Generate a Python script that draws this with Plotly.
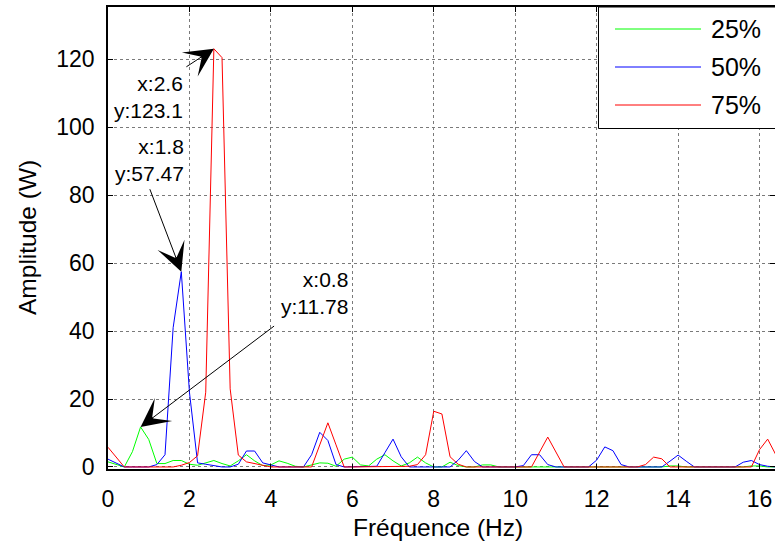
import plotly.graph_objects as go

# ---------------- data ----------------
freq = [0.0, 0.2, 0.4, 0.6, 0.8, 1.0, 1.2, 1.4, 1.6, 1.8,
        2.0, 2.2, 2.4, 2.6, 2.8, 3.0, 3.2, 3.4, 3.6, 3.8,
        4.0, 4.2, 4.4, 4.6, 4.8, 5.0, 5.2, 5.4, 5.6, 5.8,
        6.0, 6.2, 6.4, 6.6, 6.8, 7.0, 7.2, 7.4, 7.6, 7.8,
        8.0, 8.2, 8.4, 8.6, 8.8, 9.0, 9.2, 9.4, 9.6, 9.8,
        10.0, 10.2, 10.4, 10.6, 10.8, 11.0, 11.2, 11.4, 11.6, 11.8,
        12.0, 12.2, 12.4, 12.6, 12.8, 13.0, 13.2, 13.4, 13.6, 13.8,
        14.0, 14.2, 14.4, 14.6, 14.8, 15.0, 15.2, 15.4, 15.6, 15.8,
        16.0, 16.2, 16.4]

amp_25 = [1.5, 0.8, 0.0, 4.5, 11.78, 8.1, 1.0, 1.0, 1.9, 1.9,
          0.8, 0.5, 1.2, 1.9, 1.0, 0.3, 1.8, 3.6, 1.8, 0.4,
          0.6, 1.8, 1.1, 0.2, 0.0, 0.6, 1.2, 1.1, 0.2, 2.3,
          2.9, 0.6, 0.3, 2.3, 3.6, 1.8, 0.3, 1.2, 2.9, 1.2,
          0.0, 0.0, 1.4, 0.4, 0.0, 0.0, 0.6, 0.6, 0.0, 0.0,
          0.0, 0.0, 0.0, 0.0, 0.0, 0.0, 0.0, 0.0, 0.0, 0.0,
          0.0, 0.0, 0.0, 0.0, 0.0, 0.0, 0.0, 0.0, 0.0, 0.3,
          0.3, 0.0, 0.0, 0.0, 0.0, 0.0, 0.0, 0.0, 0.0, 0.3,
          0.3, 0.0, 0.0]

amp_50 = [2.3, 1.2, 0.0, 0.0, 0.0, 0.0, 0.7, 3.6, 41.0, 57.47,
          22.0, 1.2, 0.8, 0.4, 0.0, 0.0, 0.8, 4.7, 4.7, 1.2,
          0.5, 0.0, 0.0, 0.0, 0.0, 3.6, 10.2, 7.8, 0.7, 0.0,
          0.0, 0.0, 0.0, 0.2, 4.2, 8.2, 3.0, 0.0, 0.0, 0.0,
          0.0, 0.0, 0.0, 2.0, 4.8, 1.6, 0.0, 0.0, 0.0, 0.0,
          0.0, 0.4, 3.6, 3.6, 0.7, 0.0, 0.0, 0.0, 0.0, 0.0,
          2.0, 5.9, 4.8, 0.7, 0.0, 0.0, 0.0, 0.0, 0.0, 1.7,
          3.5, 1.7, 0.0, 0.0, 0.0, 0.0, 0.0, 0.0, 1.4, 1.9,
          0.7, 0.2, 0.0]

amp_75 = [5.8, 2.9, 0.0, 0.0, 0.0, 0.0, 0.0, 0.0, 0.0, 0.5,
          1.3, 3.3, 22.0, 123.1, 120.5, 23.0, 3.5, 1.5, 1.0, 0.4,
          0.0, 0.0, 0.0, 0.0, 0.0, 0.0, 6.5, 13.0, 6.5, 0.0,
          0.0, 0.0, 0.0, 0.0, 0.0, 0.0, 0.0, 0.2, 0.7, 3.6,
          16.4, 15.6, 3.0, 0.8, 0.0, 0.0, 0.0, 0.0, 0.0, 0.0,
          0.0, 0.0, 0.0, 4.4, 8.8, 4.4, 0.0, 0.0, 0.0, 0.0,
          0.0, 0.0, 0.0, 0.0, 0.0, 0.0, 0.7, 2.9, 2.4, 0.0,
          0.0, 0.0, 0.0, 0.0, 0.0, 0.0, 0.0, 0.0, 0.0, 0.0,
          5.1, 8.2, 3.6]

series_names = ["25%", "50%", "75%"]
series_colors = ["#00ff00", "#0000ff", "#ff0000"]
series_values = [amp_25, amp_50, amp_75]

x_ticks = [0, 2, 4, 6, 8, 10, 12, 14, 16]
y_ticks = [0, 20, 40, 60, 80, 100, 120]
x_title = "Fréquence (Hz)"
y_title = "Amplitude (W)"

# data-tip annotations: (series index, x value) + offsets (pixels)
datatips = [
    # series, x, arrow tail dx, dy, text xshift, yshift
    (2, 2.6, -29, 19, -29, -48),
    (1, 1.8, -32, -84, 5, 112),
    (0, 0.8, 135, -102, 209, 134),
]

FONT = "Liberation Sans, Arial, sans-serif"

fig = go.Figure()
for name, color, vals in zip(series_names, series_colors, series_values):
    fig.add_trace(go.Scatter(x=freq, y=vals, mode="lines", name=name,
                             line=dict(color=color, width=1),
                             showlegend=False, hoverinfo="skip"))

for s, xv, dx, dy, tx, ty in datatips:
    i = freq.index(xv)
    yv = series_values[s][i]
    fig.add_annotation(x=xv, y=yv, xref="x", yref="y", text="",
                       showarrow=True, arrowhead=3, arrowsize=4.8,
                       arrowwidth=1, arrowcolor="black", standoff=0,
                       ax=dx, ay=dy)
    fig.add_annotation(x=xv, y=yv, xref="x", yref="y",
                       text=f"x:{xv:g}<br>y:{yv:g}", showarrow=False,
                       xanchor="right", yanchor="middle", align="right",
                       xshift=tx, yshift=ty,
                       font=dict(family=FONT, size=21, color="black"))

# layout geometry (pixels)
L, R, T, B = 108, 0, 7, 80
W, H = 775, 549
pw, ph = W - L - R, H - T - B
def px(x):
    return (x - L) / pw
def py(y):
    return (H - B - y) / ph

# custom legend (MATLAB style)
fig.add_shape(type="rect", xref="paper", yref="paper",
              x0=px(598.5), x1=px(790), y0=py(128.5), y1=py(7),
              line=dict(color="black", width=1), fillcolor="white", layer="above")
for k, (name, color) in enumerate(zip(series_names, series_colors)):
    yy = py(29 + 38 * k)
    fig.add_shape(type="line", xref="paper", yref="paper",
                  x0=px(615), x1=px(701), y0=yy, y1=yy,
                  line=dict(color=color, width=1), layer="above")
    fig.add_annotation(xref="paper", yref="paper", x=px(709), y=yy,
                       text=name, showarrow=False, xanchor="left",
                       yanchor="middle",
                       font=dict(family=FONT, size=25, color="black"))

# axis titles
fig.add_annotation(xref="paper", yref="paper", x=px(438), y=py(527),
                   text=x_title, showarrow=False, xanchor="center",
                   yanchor="middle", font=dict(family=FONT, size=24.5, color="black"))
fig.add_annotation(xref="paper", yref="paper", x=px(27), y=py(238),
                   text=y_title, showarrow=False, xanchor="center",
                   yanchor="middle", textangle=-90,
                   font=dict(family=FONT, size=24.5, color="black"))

axis_common = dict(showline=True, linecolor="black", linewidth=1.5,
                   mirror="ticks", ticks="inside", ticklen=5,
                   tickcolor="black", showgrid=True, gridcolor="#7a7a7a",
                   griddash="dot", gridwidth=1, zeroline=False,
                   automargin=False,
                   tickfont=dict(family=FONT, size=23, color="black"))

fig.update_xaxes(range=[0, 16.38], tickvals=x_ticks,
                 ticktext=[str(v) for v in x_ticks],
                 ticklabelstandoff=9, **axis_common)
fig.update_yaxes(range=[-0.6, 135.4], tickvals=y_ticks,
                 ticktext=[str(v) for v in y_ticks],
                 ticklabelstandoff=7, **axis_common)

fig.update_layout(width=W, height=H, margin=dict(l=L, r=R, t=T, b=B, autoexpand=False),
                  paper_bgcolor="white", plot_bgcolor="white",
                  showlegend=False, font=dict(family=FONT), hovermode=False)

fig.write_html("out.html", config={"displayModeBar": False},
               post_script="document.body.style.margin='0px';document.body.style.padding='0px';")
